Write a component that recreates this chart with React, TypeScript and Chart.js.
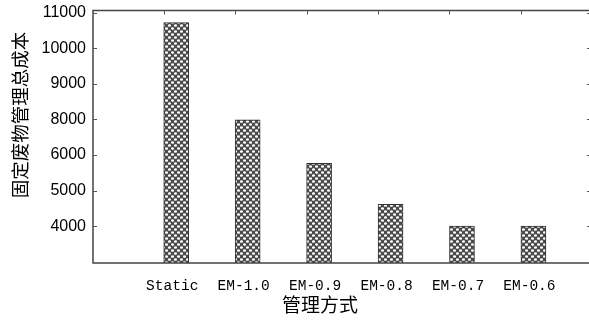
import React, { useEffect, useRef } from "react";
import { Chart, registerables } from "chart.js";

Chart.register(...registerables);

const categories = ["Static", "EM-1.0", "EM-0.9", "EM-0.8", "EM-0.7", "EM-0.6"];
const totalCost = [10720, 7980, 5770, 4620, 4010, 4010];
const yTickLabels = [4000, 5000, 6000, 8000, 9000, 10000, 11000];
const xTitle = "管理方式";
const yTitle = "固定废物管理总成本";

// map a printed value onto the (evenly spaced) tick slots of the printed axis
function toAxis(v: number): number {
  const t = yTickLabels;
  if (v <= t[0]) return (v - t[0]) / (t[1] - t[0]);
  for (let i = 0; i < t.length - 1; i++) {
    if (v <= t[i + 1]) return i + (v - t[i]) / (t[i + 1] - t[i]);
  }
  const n = t.length - 1;
  return n + (v - t[n]) / (t[n] - t[n - 1]);
}

const Y_MIN = -1.03;
const Y_MAX = 6.06;

function makePattern(): CanvasPattern | string {
  const c = document.createElement("canvas");
  c.width = 6;
  c.height = 6;
  const g = c.getContext("2d");
  if (!g) return "#888";
  g.fillStyle = "#4a4a4a";
  g.fillRect(0, 0, 6, 6);
  g.fillStyle = "#ffffff";
  const dots = [
    [1.5, 1.5],
    [4.5, 4.5],
  ];
  for (const [x, y] of dots) {
    g.beginPath();
    g.ellipse(x, y, 1.55, 1.35, 0, 0, Math.PI * 2);
    g.fill();
  }
  const p = g.createPattern(c, "repeat");
  return p || "#888";
}

const boxPlugin = {
  id: "boxPlugin",
  afterDraw(chart: any) {
    const { ctx, chartArea } = chart;
    const { left, right, top, bottom } = chartArea;
    const y = chart.scales.y;
    ctx.save();
    ctx.strokeStyle = "#444";
    ctx.lineWidth = 1.5;
    ctx.beginPath();
    ctx.moveTo(left, top);
    ctx.lineTo(right, top);
    ctx.lineTo(right, bottom);
    ctx.lineTo(left, bottom);
    ctx.closePath();
    ctx.stroke();
    ctx.lineWidth = 1;
    ctx.strokeStyle = "#555";
    ctx.beginPath();
    yTickLabels.forEach((_, i) => {
      const py = Math.round(y.getPixelForValue(i)) + 0.5;
      ctx.moveTo(left, py);
      ctx.lineTo(left + 4, py);
      ctx.moveTo(right, py);
      ctx.lineTo(right - 5, py);
    });
    const meta = chart.getDatasetMeta(0);
    meta.data.forEach((bar: any) => {
      const px = Math.round(bar.x - bar.width / 2) + 0.5;
      ctx.moveTo(px, top);
      ctx.lineTo(px, top + 4);
    });
    ctx.stroke();

    // axis titles
    ctx.fillStyle = "#000";
    ctx.textAlign = "center";
    ctx.textBaseline = "middle";
    ctx.font = '19px "Noto Sans CJK SC"';
    ctx.fillText(xTitle, 320, 305);
    ctx.save();
    ctx.translate(20, 115);
    ctx.rotate(-Math.PI / 2);
    ctx.font = '18.5px "Noto Sans CJK SC"';
    ctx.fillText(yTitle, 0, 0);
    ctx.restore();
    ctx.restore();
  },
};

export default function App() {
  const ref = useRef<HTMLCanvasElement | null>(null);
  useEffect(() => {
    if (!ref.current) return;
    const pattern = makePattern();
    const chart = new Chart(ref.current, {
      type: "bar",
      data: {
        datasets: [
          {
            data: totalCost.map((v, i) => ({ x: i + 1, y: toAxis(v) })),
            base: Y_MIN,
            backgroundColor: pattern as any,
            borderColor: "#333",
            borderWidth: 1,
            borderSkipped: "bottom",
            barThickness: 25,
          } as any,
        ],
      },
      options: {
        responsive: false,
        animation: false,
        layout: { padding: { top: 10.5, right: 8, left: 0, bottom: 0 } },
        plugins: {
          legend: { display: false },
          tooltip: { enabled: false },
        },
        scales: {
          x: {
            type: "linear",
            offset: false,
            min: -0.165,
            max: 6.82,
            grid: { display: false, drawTicks: false },
            border: { display: false },
            afterBuildTicks: (s: any) => {
              s.ticks = categories.map((_, i) => ({ value: i + 1 }));
            },
            afterFit: (s: any) => {
              s.height = 57;
              s.paddingLeft = 0;
              s.paddingRight = 0;
            },
            ticks: {
              autoSkip: false,
              maxRotation: 0,
              padding: 14,
              labelOffset: -4,
              color: "#000",
              font: { family: "Liberation Mono", size: 14.5 },
              callback: (v: any) => categories[Math.round(v) - 1] ?? "",
            },
          },
          y: {
            type: "linear",
            min: Y_MIN,
            max: Y_MAX,
            grid: { display: false, drawTicks: false },
            border: { display: false },
            afterBuildTicks: (s: any) => {
              s.ticks = yTickLabels.map((_, i) => ({ value: i }));
            },
            afterFit: (s: any) => {
              s.width = 93;
              s.paddingTop = 0;
              s.paddingBottom = 0;
            },
            ticks: {
              autoSkip: false,
              padding: 7,
              color: "#000",
              font: { family: "Liberation Sans", size: 16 },
              callback: (v: any) => String(yTickLabels[Math.round(v)] ?? ""),
            },
          },
        },
      },
      plugins: [boxPlugin],
    });
    return () => chart.destroy();
  }, []);
  return (
    <div style={{ width: 600, height: 320, overflow: "hidden" }}>
      <style>{"html,body{margin:0;padding:0;overflow:hidden;background:#fff}"}</style>
      <canvas ref={ref} width={600} height={320} style={{ display: "block" }} />
    </div>
  );
}
